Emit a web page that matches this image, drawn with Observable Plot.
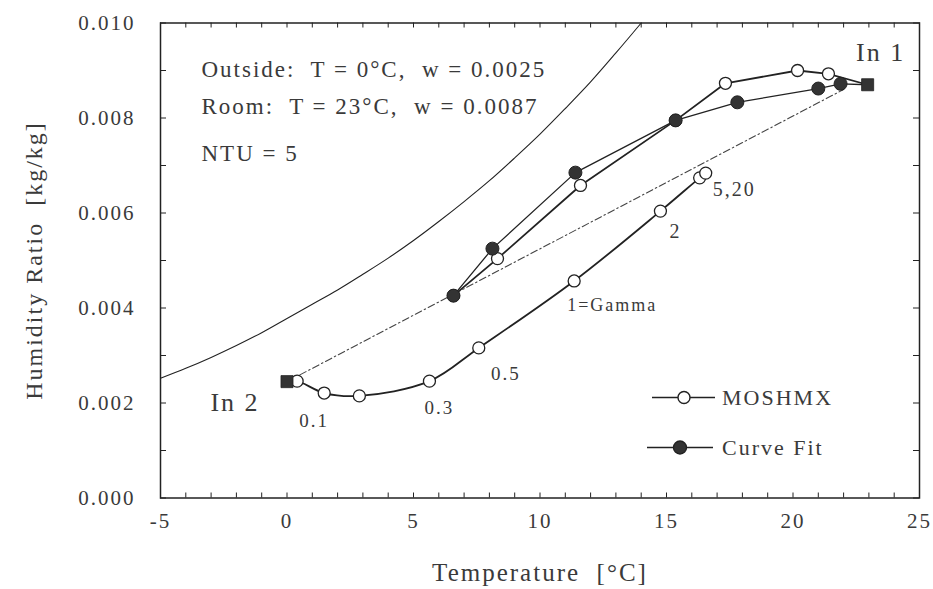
<!DOCTYPE html>
<html><head><meta charset="utf-8">
<script src="https://cdn.jsdelivr.net/npm/d3@7"></script>
<script src="https://cdn.jsdelivr.net/npm/@observablehq/plot@0.6"></script>
<style>
html,body{margin:0;padding:0;background:#fff;}
#chart svg{display:block;}
</style></head><body><div id="chart"></div>
<script>
// ---- data ----
// saturation curve (temperature °C, humidity ratio kg/kg)
const satT = [-5,-4,-3,-2,-1,0,1,2,3,4,5,6,7,8,9,10,11,12,13,14];
const satW = [0.00252,0.00273,0.00296,0.00321,0.00348,0.00378,0.00408,0.00438,0.00471,0.00505,0.00542,0.00582,0.00624,0.00668,0.00716,0.00766,0.00820,0.00876,0.00937,0.01000];
// straight mixing line In 2 -> In 1 (dash-dot)
const mixT = [0, 22];
const mixW = [0.00245, 0.0086];
// inlet states
const inletNames = ["In 1", "In 2"];
const inletT = [22.95, 0];
const inletW = [0.0087, 0.00245];
// MOSHMX, lower branch (Gamma sweep), first point is In 2
const lowT = [0, 0.4, 1.47, 2.86, 5.63, 7.58, 11.35, 14.76, 16.31, 16.55];
const lowW = [0.00245, 0.00246, 0.00221, 0.00215, 0.00246, 0.00316, 0.00457, 0.00604, 0.00674, 0.00684];
const lowLabels = ["", "", "0.1", "", "0.3", "0.5", "1=Gamma", "2", "", "5,20"];
// MOSHMX, upper branch, last point is In 1
const upT = [6.58, 8.32, 11.60, 15.36, 17.33, 20.18, 21.4, 22.95];
const upW = [0.00426, 0.00504, 0.00658, 0.00795, 0.00873, 0.0090, 0.00893, 0.0087];
// Curve Fit, last point is In 1
const fitT = [6.58, 8.12, 11.40, 15.36, 17.80, 21.0, 21.88, 22.95];
const fitW = [0.00426, 0.00525, 0.00685, 0.00795, 0.00833, 0.00862, 0.00872, 0.0087];
// annotations and legend
const noteLines = ["Outside:  T = 0°C,  w = 0.0025", "Room:  T = 23°C,  w = 0.0087", "NTU = 5"];
const legendNames = ["MOSHMX", "Curve Fit"];
// ticks
const xLabels = [-5, 0, 5, 10, 15, 20, 25];
const xMinor = d3.range(-5, 25.01, 1);
const yLabels = [0, 0.002, 0.004, 0.006, 0.008, 0.010];
const yMinor = [0, 0.001, 0.002, 0.003, 0.004, 0.005, 0.006, 0.007, 0.008, 0.009, 0.010];
const xTitle = "Temperature  [°C]";
const yTitle = "Humidity Ratio  [kg/kg]";

// ---- build ----
const zip = (T, W, extra) => T.map((t, i) => ({t, w: W[i], ...(extra ? {lab: extra[i]} : {})}));
const sat = zip(satT, satW);
const mix = zip(mixT, mixW);
const low = zip(lowT, lowW, lowLabels);
const up = zip(upT, upW);
const fit = zip(fitT, fitW);
const inlets = inletNames.map((n, i) => ({n, t: inletT[i], w: inletW[i]}));

const Wd = 933, Ht = 589;
const mL = 160, mR = 14, mT = 22.5, mB = 91.5;
const pw = Wd - mL - mR, ph = Ht - mT - mB;
const serif = '"Liberation Serif","Times New Roman","DejaVu Serif",serif';
const ink = "#222";
const grey = "#3a3a3a";

function legendMark(index, scales, values, dims) {
  const right = dims.width - dims.marginRight;
  const bottom = dims.height - dims.marginBottom;
  const g = d3.create("svg:g");
  const rows = [
    {name: legendNames[0], y: bottom - 100, x1: right - 267, x2: right - 204, cx: right - 235, fill: "#fff", r: 6},
    {name: legendNames[1], y: bottom - 50, x1: right - 272, x2: right - 206, cx: right - 239, fill: "#333", r: 6.5}
  ];
  for (const r of rows) {
    g.append("line").attr("x1", r.x1).attr("x2", r.x2).attr("y1", r.y).attr("y2", r.y)
      .attr("stroke", ink).attr("stroke-width", 1.5);
    g.append("circle").attr("cx", r.cx).attr("cy", r.y).attr("r", r.r)
      .attr("fill", r.fill).attr("stroke", ink).attr("stroke-width", 1.4);
    g.append("text").attr("x", right - 197).attr("y", r.y).attr("dy", "0.35em")
      .attr("text-anchor", "start")
      .attr("font-family", serif).attr("font-size", 22)
      .attr("fill", grey).text(r.name);
  }
  return g.node();
}

const lab = (d, opts) => Plot.text(low.filter(e => e.lab === d), {x: "t", y: "w", text: "lab", fontSize: 19, fill: grey, ...opts});

const chart = Plot.plot({
  width: Wd, height: Ht,
  marginLeft: mL, marginRight: mR, marginTop: mT, marginBottom: mB,
  style: {fontFamily: serif, background: "#fff", color: ink, overflow: "visible", letterSpacing: "2px"},
  x: {domain: [-5, 25]},
  y: {domain: [0, 0.010]},
  marks: [
    // axes labels (no ticks; ticks drawn inward below)
    Plot.axisX({ticks: xLabels, tickSize: 0, tickPadding: 15, fontSize: 21, fill: grey, label: null, tickFormat: d => String(d)}),
    Plot.axisY({ticks: yLabels, tickSize: 0, tickPadding: 25, fontSize: 21, fill: grey, label: null, tickFormat: d3.format(".3f")}),
    Plot.text([xTitle], {frameAnchor: "bottom", lineAnchor: "middle", dy: 75, fontSize: 25, fill: grey}),
    Plot.text([yTitle], {frameAnchor: "left", textAnchor: "middle", lineAnchor: "middle", dx: -126, rotate: -90, fontSize: 24, fill: grey}),
    // inward ticks on all four sides
    Plot.tickX(xMinor, {x: d => d, insetTop: ph - 5, stroke: ink, strokeWidth: 1}),
    Plot.tickX(xMinor, {x: d => d, insetBottom: ph - 5, stroke: ink, strokeWidth: 1}),
    Plot.tickY(yMinor, {y: d => d, insetRight: pw - 6, stroke: ink, strokeWidth: 1}),
    Plot.tickY(yMinor, {y: d => d, insetLeft: pw - 6, stroke: ink, strokeWidth: 1}),
    Plot.frame({stroke: ink, strokeWidth: 1.5}),
    // saturation curve
    Plot.line(sat, {x: "t", y: "w", stroke: ink, strokeWidth: 1.1, curve: "catmull-rom", clip: true}),
    // mixing line
    Plot.line(mix, {x: "t", y: "w", stroke: "#444", strokeWidth: 1.1, strokeDasharray: "7,3,1.5,3"}),
    // curves
    Plot.line(low, {x: "t", y: "w", stroke: ink, strokeWidth: 1.8, curve: "catmull-rom"}),
    Plot.line(fit, {x: "t", y: "w", stroke: ink, strokeWidth: 1.3}),
    Plot.line(up, {x: "t", y: "w", stroke: ink, strokeWidth: 1.8}),
    // markers
    Plot.dot(low.slice(1), {x: "t", y: "w", r: 6, fill: "#fff", stroke: ink, strokeWidth: 1.3}),
    Plot.dot(up.slice(0, -1), {x: "t", y: "w", r: 6, fill: "#fff", stroke: ink, strokeWidth: 1.3}),
    Plot.dot(fit.slice(0, -1), {x: "t", y: "w", r: 6.5, fill: "#333", stroke: ink, strokeWidth: 1}),
    Plot.dot(inlets, {x: "t", y: "w", symbol: "square", r: 6.8, fill: "#333", stroke: ink, strokeWidth: 0.8}),
    // inlet labels
    Plot.text(inlets.filter(d => d.n === "In 1"), {x: "t", y: "w", text: "n", dx: 13, dy: -32, fontSize: 26, fill: grey}),
    Plot.text(inlets.filter(d => d.n === "In 2"), {x: "t", y: "w", text: "n", dx: -52, dy: 21, fontSize: 26, fill: grey}),
    // Gamma labels
    lab("0.1", {dx: -10, dy: 28}),
    lab("0.3", {dx: 10, dy: 27}),
    lab("0.5", {dx: 27, dy: 26}),
    lab("1=Gamma", {dx: -7, dy: 24, textAnchor: "start", fontSize: 18}),
    lab("2", {dx: 15, dy: 20, fontSize: 20}),
    lab("5,20", {dx: 7, dy: 16, textAnchor: "start", fontSize: 20}),
    // annotation block
    Plot.text([noteLines[0]], {frameAnchor: "top-left", lineAnchor: "middle", dx: 41, dy: 46.5, textAnchor: "start", fontSize: 23, fill: grey}),
    Plot.text([noteLines[1]], {frameAnchor: "top-left", lineAnchor: "middle", dx: 41, dy: 84, textAnchor: "start", fontSize: 23, fill: grey}),
    Plot.text([noteLines[2]], {frameAnchor: "top-left", lineAnchor: "middle", dx: 41, dy: 131, textAnchor: "start", fontSize: 23, fill: grey}),
    // legend
    legendMark
  ]
});
document.getElementById("chart").appendChild(chart);
</script>
</body></html>
